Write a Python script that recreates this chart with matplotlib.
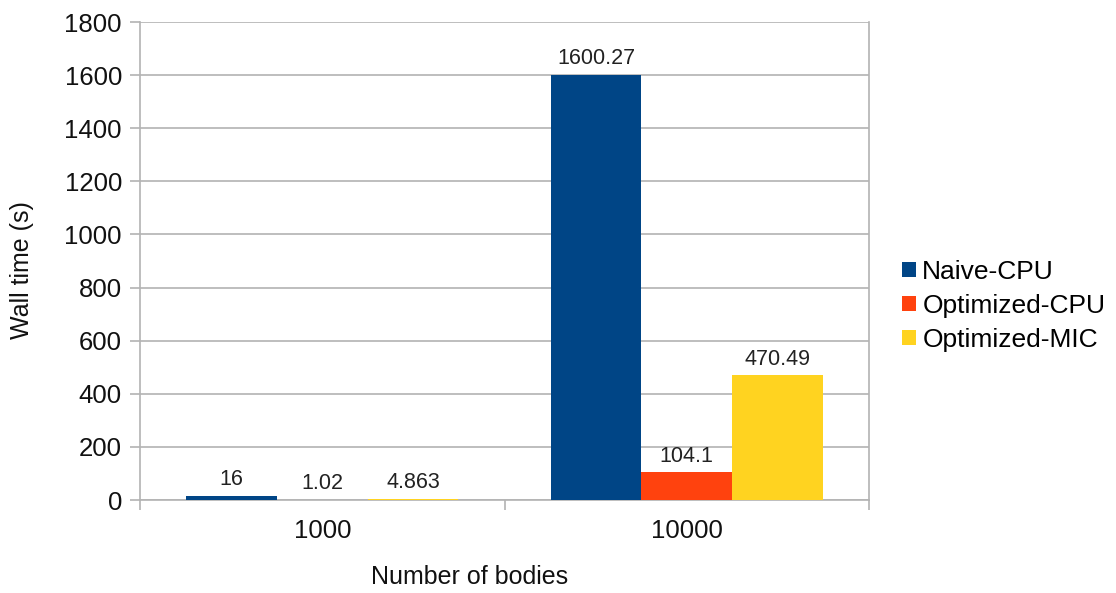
import matplotlib
matplotlib.use("Agg")
import matplotlib.pyplot as plt
import numpy as np
from matplotlib.patches import Patch

plt.rcParams['font.family'] = ['Liberation Sans', 'DejaVu Sans']

categories = ["1000", "10000"]
series_names = ["Naive-CPU", "Optimized-CPU", "Optimized-MIC"]
naive_cpu = [16, 1600.27]
optimized_cpu = [1.02, 104.1]
optimized_mic = [4.863, 470.49]
series_values = [naive_cpu, optimized_cpu, optimized_mic]
value_labels = [["16", "1600.27"], ["1.02", "104.1"], ["4.863", "470.49"]]
colors = ["#004586", "#ff420e", "#ffd320"]
y_ticks = [0, 200, 400, 600, 800, 1000, 1200, 1400, 1600, 1800]

grid_color = "#b3b3b3"
W, H = 1116, 593

fig = plt.figure(figsize=(W / 100, H / 100), dpi=100)
ax = fig.add_axes([140 / W, 1 - 500 / H, (869 - 140) / W, (500 - 22) / H])

x = np.arange(len(categories))
bar_w = 0.249
offsets = [-bar_w, 0, bar_w]
for vals, labels, off, col, name in zip(series_values, value_labels, offsets, colors, series_names):
    bars = ax.bar(x + off, vals, width=bar_w, color=col, label=name, zorder=3)
    for b, v, t in zip(bars, vals, labels):
        ax.annotate(t, (b.get_x() + b.get_width() / 2, v), xytext=(0, 4),
                    textcoords="offset points", ha="center", va="bottom",
                    fontsize=15.5, color="#222222", zorder=4)

ax.set_xlim(-0.5, len(categories) - 0.5)
ax.set_ylim(0, 1800)
ax.set_yticks(y_ticks)
ax.set_yticklabels([str(t) for t in y_ticks])
ax.yaxis.grid(True, color=grid_color, linewidth=1.2, zorder=0)
ax.set_axisbelow(True)

ax.set_xticks(x)
ax.set_xticklabels(categories)
ax.set_xticks(np.arange(-0.5, len(categories), 1.0), minor=True)
ax.tick_params(axis='x', which='major', length=0, pad=14, labelsize=18.5, colors="#111111")
ax.tick_params(axis='x', which='minor', length=7, width=1.2, color=grid_color, direction='out')
ax.tick_params(axis='y', length=7, width=1.2, color=grid_color, pad=6, labelsize=18.5, labelcolor="#111111")

for side, sp in ax.spines.items():
    sp.set_color(grid_color)
    sp.set_linewidth(1.2)
ax.spines['top'].set_visible(False)

fig.text(22 / W, 1 - 270 / H, "Wall time (s)", rotation=90, ha="center", va="center",
         fontsize=18, color="#111111")
fig.text(470 / W, 1 - 577 / H, "Number of bodies", ha="center", va="center",
         fontsize=18, color="#111111")

handles = [Patch(facecolor=c, edgecolor='none') for c in colors]
fig.legend(handles, series_names, loc="center left", bbox_to_anchor=(902 / W, 1 - 306 / H),
           frameon=False, fontsize=19, handlelength=0.52, handleheight=0.52,
           handletextpad=0.25, labelspacing=0.38, borderpad=0, borderaxespad=0)

fig.savefig("out.png", dpi=100)
